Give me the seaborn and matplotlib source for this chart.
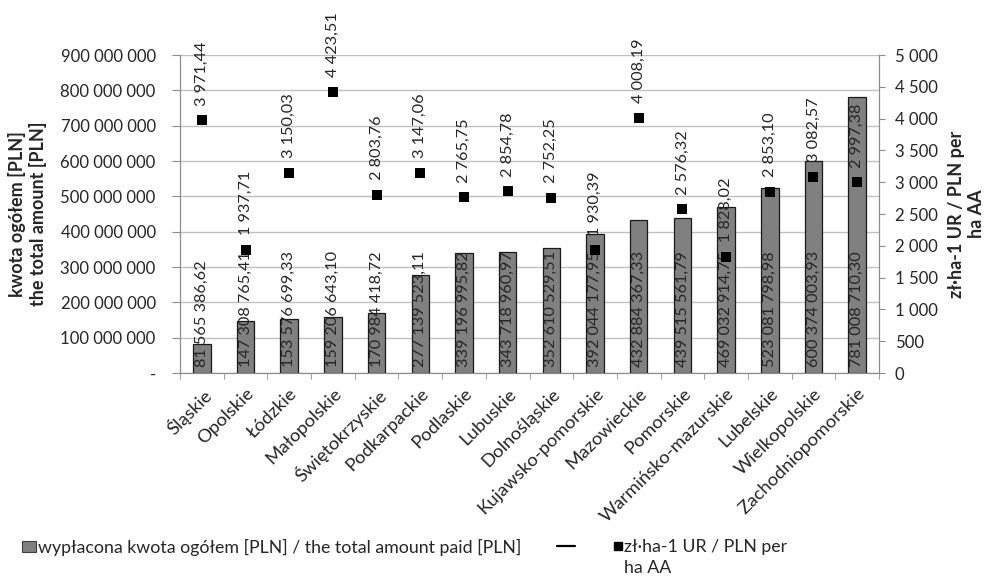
import numpy as np
import matplotlib
matplotlib.use("Agg")
import matplotlib.pyplot as plt
import seaborn as sns
from matplotlib.patches import Patch
from matplotlib.lines import Line2D
from matplotlib.ticker import FuncFormatter, MultipleLocator

regions = ['Śląskie', 'Opolskie', 'Łódzkie', 'Małopolskie', 'Świętokrzyskie', 'Podkarpackie',
           'Podlaskie', 'Lubuskie', 'Dolnośląskie', 'Kujawsko-pomorskie', 'Mazowieckie',
           'Pomorskie', 'Warmińsko-mazurskie', 'Lubelskie', 'Wielkopolskie', 'Zachodniopomorskie']
total_paid = [81565386.62, 147308765.41, 153576699.33, 159206643.10, 170984418.72, 277139523.11,
              339196995.82, 343718960.97, 352610529.51, 392044177.95, 432884367.33,
              439515561.79, 469032914.75, 523081798.98, 600374003.93, 781008710.30]
per_ha = [3971.44, 1937.71, 3150.03, 4423.51, 2803.76, 3147.06, 2765.75, 2854.78, 2752.25,
          1930.39, 4008.19, 2576.32, 1828.02, 2853.10, 3082.57, 2997.38]

bar_name = 'wypłacona kwota ogółem [PLN] / the total amount paid [PLN]'
pt_line1 = 'zł·ha-1 UR / PLN per'
pt_line2 = 'ha AA'


def pl_num(v, dec=2):
    s = f"{v:,.{dec}f}"
    return s.replace(',', ' ').replace('.', ',')


sns.set_style('white')
plt.rcParams['font.family'] = ['Lato', 'DejaVu Sans']
plt.rcParams['font.size'] = 12

W, H = 986, 584
fig = plt.figure(figsize=(W / 100, H / 100), dpi=100)
ax = fig.add_axes([180 / W, 1 - 373 / H, 699 / W, 318 / H])
ax2 = ax.twinx()

x = np.arange(len(regions))
sns.barplot(x=regions, y=total_paid, ax=ax, color='#808080', saturation=1,
            width=0.40, edgecolor='#1a1a1a', linewidth=0.9, zorder=2)
sns.scatterplot(x=x, y=per_ha, ax=ax2, marker='s', s=48, color='black',
                edgecolor='black', linewidth=0, zorder=3)

ax.set_ylim(0, 900000000)
ax.set_xlim(-0.5, len(regions) - 0.5)
ax2.set_ylim(0, 5000)
ax.yaxis.set_major_locator(MultipleLocator(100000000))
ax2.yaxis.set_major_locator(MultipleLocator(500))
ax.yaxis.set_major_formatter(FuncFormatter(lambda v, p: '-' if v == 0 else pl_num(v, 0)))
ax2.yaxis.set_major_formatter(FuncFormatter(lambda v, p: pl_num(v, 0)))

ax.grid(axis='y', color='#c0c0c0', linewidth=1)
ax.set_axisbelow(True)

for a in (ax, ax2):
    for sp in ['left', 'right', 'bottom']:
        a.spines[sp].set_color('#8c8c8c')
    a.spines['top'].set_visible(False)

ax.tick_params(axis='y', length=5.5, color='#8c8c8c', labelsize=12.1, pad=12, left=True)
ax2.tick_params(axis='y', length=4.5, color='#8c8c8c', labelsize=12.1, pad=7, right=True)
ax.set_xticks(x)
ax.set_xticklabels(regions, rotation=45, ha='right', rotation_mode='anchor', fontsize=13.3)
ax.tick_params(axis='x', length=0, pad=9)
ax.set_xticks(np.arange(len(regions) + 1) - 0.5, minor=True)
ax.tick_params(axis='x', which='minor', length=4.5, color='#8c8c8c', bottom=True)

ax.set_ylabel('kwota ogółem [PLN]\nthe total amount [PLN]', fontweight='bold', fontsize=13,
              linespacing=1.2)
ax.yaxis.set_label_coords((47 - 180) / 699, 0.5)
ax2.set_ylabel(pt_line1 + '\n' + pt_line2, fontweight='bold', fontsize=13, linespacing=1.2)
ax2.yaxis.set_label_coords((948 - 180) / 699, 0.5)

for i, v in enumerate(total_paid):
    ax.annotate(pl_num(v), (i, 0), xytext=(0, 4), textcoords='offset points',
                rotation=90, ha='center', va='bottom', fontsize=11.7, zorder=4)
for i, v in enumerate(per_ha):
    ax2.annotate(pl_num(v), (i, v), xytext=(0, 10.5), textcoords='offset points',
                 rotation=90, ha='center', va='bottom', fontsize=11.7, zorder=4)

# legend: three entries placed along the bottom row
leg_y = 1 - 547 / H
lkw = dict(loc='center left', frameon=False, fontsize=12.8, borderpad=0, borderaxespad=0)
leg1 = fig.legend([Patch(facecolor='#808080', edgecolor='#404040', linewidth=0.8)], [bar_name],
                  bbox_to_anchor=(22 / W, leg_y), handlelength=0.8, handleheight=0.55,
                  handletextpad=0.1, **lkw)
leg2 = fig.legend([Line2D([], [], color='black', linewidth=1.6)], [''],
                  bbox_to_anchor=(557 / W, leg_y), handlelength=1.0, handletextpad=0, **lkw)
leg3 = fig.legend([Line2D([], [], marker='s', color='black', linestyle='none', markersize=5.5)],
                  [pt_line1], bbox_to_anchor=(614 / W, leg_y), handlelength=0.5,
                  handletextpad=0.05, **lkw)
fig.text(624 / W, 1 - 568 / H, pt_line2, ha='left', va='center', fontsize=12.8)

fig.savefig('out.png', dpi=100)
